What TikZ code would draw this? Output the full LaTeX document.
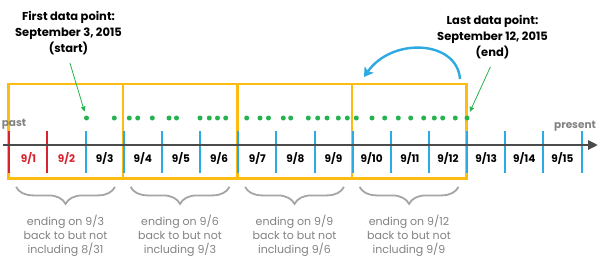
\documentclass[tikz,border=0pt]{standalone}
\usepackage{fontspec}
\setmainfont{Poppins}
\usepackage{tikz}
\usetikzlibrary{arrows.meta,positioning,decorations.pathreplacing}
\definecolor{WinOrange}{RGB}{253,188,17}
\definecolor{DotGreen}{RGB}{38,178,78}
\definecolor{TickBlue}{RGB}{45,170,225}
\definecolor{TickRed}{RGB}{215,35,45}
\definecolor{AxisGray}{RGB}{75,75,75}
\definecolor{NoteGray}{RGB}{130,130,130}
\definecolor{BraceGray}{RGB}{165,165,165}

\begin{document}
\begin{tikzpicture}[x=1pt, y=-1pt,
    win/.style={draw=WinOrange, line width=2.4pt, minimum width=114.5pt, minimum height=94pt, inner sep=0pt},
    daytick/.style={draw=TickBlue, line width=2pt},
    pasttick/.style={draw=TickRed, line width=2pt},
    day/.style={font=\fontsize{10.5}{13}\selectfont\bfseries, inner sep=0pt},
    pt/.style={circle, fill=DotGreen, minimum size=5pt, inner sep=0pt},
    note/.style={align=center, font=\fontsize{11}{14.3}\selectfont, text=NoteGray},
    title/.style={align=center, font=\fontsize{11.5}{16}\selectfont\bfseries},
    side/.style={font=\fontsize{10.5}{13}\selectfont\bfseries, text=NoteGray, inner sep=0pt},
    ptr/.style={draw=DotGreen, line width=0.8pt, -{Triangle[length=5pt,width=4.5pt]}, shorten >=4pt, shorten <=5pt},
    back/.style={draw=TickBlue, line width=2.4pt, -{Stealth[length=9pt,width=11pt,inset=2pt]}},
    axis/.style={draw=AxisGray, line width=2.6pt, -{Triangle[length=10pt,width=9pt]}},
    grp/.style={draw=BraceGray, line width=1.8pt, decorate, decoration={brace, mirror, amplitude=17pt}}
]
    \useasboundingbox (0,0) rectangle (600,270);

    % three-day windows
    \foreach \k in {1,...,4}
        \node[win] (w\k) at ({65.55+114.5*(\k-1)},131.3) {};

    % day ticks
    \foreach \i in {0,1}
        \draw[pasttick] ({9.3+38.15*\i},131) -- ({9.3+38.15*\i},173);
    \foreach \i in {2,...,15}
        \draw[daytick] ({9.3+38.15*\i},131) -- ({9.3+38.15*\i},173);

    % time line
    \coordinate (tl) at (3,145);
    \coordinate (tr) at (598,145);
    \draw[axis] (tl) -- (tr);
    \node[side] (past) at (14,124) {past};
    \node[side] (present) at (575,126) {present};

    % day labels
    \foreach \d in {1,2}
        \node[day, text=TickRed] (d\d) at ({9.3+38.15*(\d-0.5)},158) {9/\d};
    \foreach \d in {3,...,15}
        \node[day] (d\d) at ({9.3+38.15*(\d-0.5)},158) {9/\d};

    % data points
    \foreach \x [count=\k] in {86.5,114.3,129.3,137.7,152.3,169,176.5,200,209.3,217.5,225.7,
                               246.7,260,268.5,283.3,290.7,308.3,317.7,327,338.3,347.3,356.3,
                               372,384.7,398.3,410.7,423.7,434.3,442.7,455.3,467}
        \node[pt] (p\k) at (\x,118) {};

    % first / last
    \node[title] (first) at (68.5,33) {First data point:\\September 3, 2015\\(start)};
    \node[title] (last) at (492.5,37) {Last data point:\\September 12, 2015\\(end)};
    \draw[ptr] (first.south) -- (p1);
    \draw[ptr] (last.south) -- (p31);

    % stepping back
    \coordinate (arcS) at (460,79);
    \coordinate (arcE) at (364,77);
    \draw[back] (arcS) .. controls (457,40) and (392,37) .. (arcE);

    % window braces
    \foreach \k in {1,...,4}
        \draw[grp] ([shift={(9,7.4)}]w\k.south west) -- ([shift={(-9,7.4)}]w\k.south east);
    \node[note] (n1) at (65.5,236) {ending on 9/3\\back to but not\\including 8/31};
    \node[note] (n2) at (180,236) {ending on 9/6\\back to but not\\including 9/3};
    \node[note] (n3) at (294.5,236) {ending on 9/9\\back to but not\\including 9/6};
    \node[note] (n4) at (409,236) {ending on 9/12\\back to but not\\including 9/9};
\end{tikzpicture}
\end{document}
